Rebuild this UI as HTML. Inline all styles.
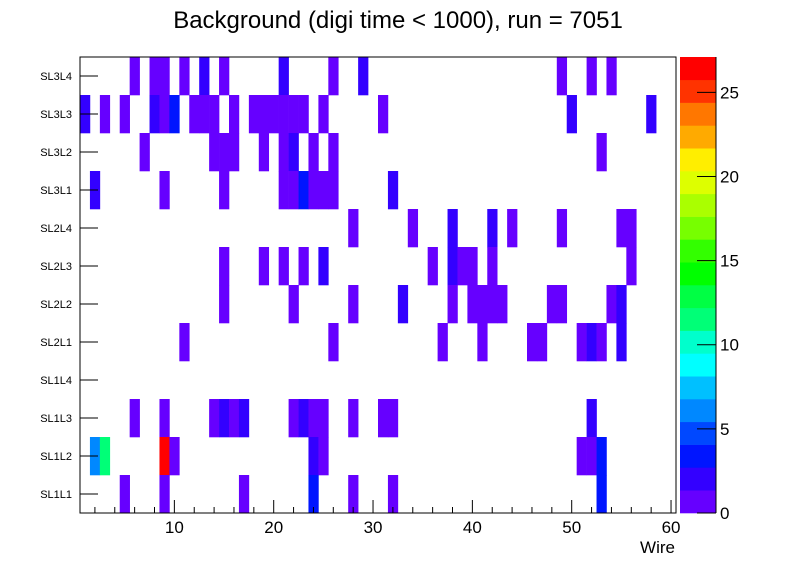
<!DOCTYPE html>
<html><head><meta charset="utf-8"><style>
body{margin:0;background:#fff;}
svg{display:block;font-family:"Liberation Sans",sans-serif;}
</style></head><body>
<svg id="c" width="796" height="572"></svg>
<script>
const rowLabels=["SL1L1","SL1L2","SL1L3","SL1L4","SL2L1","SL2L2","SL2L3","SL2L4","SL3L1","SL3L2","SL3L3","SL3L4"];
const xTicks=[10,20,30,40,50,60];
const zTicks=[0,5,10,15,20,25];
const paletteColors=["#6600ff","#3300ff","#0015ff","#0048ff","#0088ff","#00c0ff","#00ffff","#00ffcc","#00ff77","#00ff44","#00ff00","#33ff00","#77ff00","#aaff00","#ddff00","#ffee00","#ffaa00","#ff7700","#ff3300","#ff0000"];
// [row, wire, count]
const cells=[
[11,6,1],[11,8,1],[11,9,1],[11,11,1],[11,13,2],[11,15,1],[11,21,2],[11,26,1],[11,29,2],[11,49,1],[11,52,1],[11,54,1],
[10,1,2],[10,3,1],[10,5,1],[10,8,2],[10,9,1],[10,10,3],[10,12,1],[10,13,1],[10,14,1],[10,16,1],[10,18,1],[10,19,1],[10,20,1],[10,21,1],[10,22,1],[10,23,1],[10,25,1],[10,31,1],[10,50,2],[10,58,2],
[9,7,1],[9,14,1],[9,15,1],[9,16,1],[9,19,1],[9,21,1],[9,22,2],[9,24,1],[9,26,1],[9,53,1],
[8,2,2],[8,9,1],[8,15,1],[8,21,1],[8,22,1],[8,23,3],[8,24,1],[8,25,1],[8,26,1],[8,32,2],
[7,28,1],[7,34,1],[7,38,2],[7,42,2],[7,44,1],[7,49,1],[7,55,1],[7,56,1],
[6,15,1],[6,19,1],[6,21,1],[6,23,1],[6,25,2],[6,36,1],[6,38,2],[6,39,1],[6,40,1],[6,42,1],[6,56,1],
[5,15,1],[5,22,1],[5,28,1],[5,33,2],[5,38,1],[5,40,1],[5,41,1],[5,42,1],[5,43,1],[5,48,1],[5,49,1],[5,54,1],[5,55,2],
[4,11,1],[4,26,1],[4,37,1],[4,41,1],[4,46,1],[4,47,1],[4,51,1],[4,52,2],[4,53,1],[4,55,2],
[2,6,1],[2,9,1],[2,14,1],[2,15,2],[2,16,1],[2,17,2],[2,22,1],[2,23,2],[2,24,1],[2,25,1],[2,28,1],[2,31,1],[2,32,1],[2,52,2],
[1,2,6],[1,3,11],[1,9,27],[1,10,1],[1,24,2],[1,25,1],[1,51,1],[1,52,1],[1,53,3],
[0,5,1],[0,9,1],[0,17,1],[0,24,3],[0,28,1],[0,32,1],[0,53,3]
];
const NS="http://www.w3.org/2000/svg";
const svg=document.getElementById('c');
function mk(t,a,p){const e=document.createElementNS(NS,t);for(const k in a)e.setAttribute(k,a[k]);(p||svg).appendChild(e);return e;}
const X0=80,X1=676,Y0=57,Y1=513,XMIN=0.5,XMAX=60.5,ZMAX=27.1;
const xs=w=>X0+(w-XMIN)/(XMAX-XMIN)*(X1-X0);
const rowH=(Y1-Y0)/rowLabels.length;
const ry=r=>Y1-(r+1)*rowH;
const zy=z=>Y1-z/ZMAX*(Y1-Y0);
function col(v){let i=Math.floor(v/ZMAX*paletteColors.length);if(i>=paletteColors.length)i=paletteColors.length-1;return paletteColors[i];}
const t=mk('text',{x:398,y:28,'text-anchor':'middle','font-size':24});t.textContent="Background (digi time < 1000), run = 7051";


const g=mk('g',{});


cells.forEach(c=>{const r=mk('rect',{x:xs(c[1]-0.5),y:ry(c[0]),width:xs(c[1]+0.5)-xs(c[1]-0.5)+0.3,height:rowH+0.3,fill:col(c[2])},g);

});
const fr=mk('rect',{x:X0,y:Y0,width:X1-X0,height:Y1-Y0,fill:'none',stroke:'#000','stroke-width':1});


// y labels & ticks
rowLabels.forEach((l,i)=>{const cy=ry(i)+rowH/2;mk('line',{x1:X0,x2:X0+18,y1:cy,y2:cy,stroke:'#000'});
const tx=mk('text',{x:72,y:cy+4,'text-anchor':'end','font-size':11});tx.textContent=l;

});
// x ticks
for(let w=2;w<=60;w+=2){const x=xs(w);const major=w%10==0;mk('line',{x1:x,x2:x,y1:Y1,y2:Y1-(major?13:6),stroke:'#000'});}
xTicks.forEach(v=>{const tx=mk('text',{x:xs(v),y:533,'text-anchor':'middle','font-size':17});tx.textContent=v;

});
const xt=mk('text',{x:675,y:553,'text-anchor':'end','font-size':17});xt.textContent="Wire";


// palette
const pg=mk('g',{});


const n=paletteColors.length,bh=(Y1-Y0)/n;
paletteColors.forEach((c,i)=>{mk('rect',{x:680,y:Y1-(i+1)*bh,width:36,height:bh+0.3,fill:c},pg);});
mk('line',{x1:716,x2:716,y1:Y0,y2:Y1,stroke:'#000'},pg);
zTicks.forEach(v=>{const y=zy(v);mk('line',{x1:697,x2:716,y1:y,y2:y,stroke:'#000'},pg);
const tx=mk('text',{x:720,y:y+6,'font-size':17},pg);tx.textContent=v;

});
</script>
</body></html>
